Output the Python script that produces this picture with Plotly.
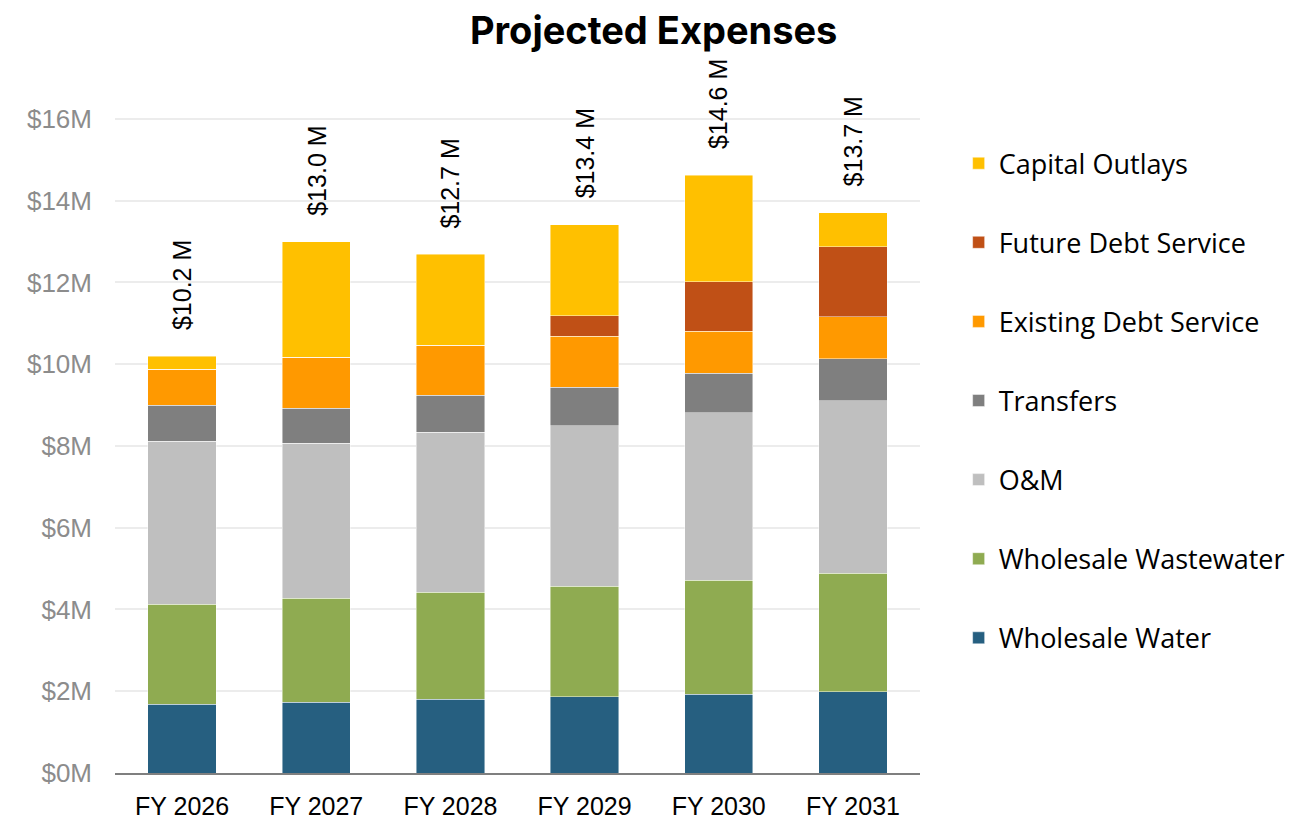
import plotly.graph_objects as go

years = ["FY 2026", "FY 2027", "FY 2028", "FY 2029", "FY 2030", "FY 2031"]

wholesale_water = [1.68, 1.73, 1.80, 1.86, 1.93, 1.99]
wholesale_wastewater = [2.45, 2.54, 2.62, 2.71, 2.78, 2.90]
om = [3.98, 3.79, 3.92, 3.93, 4.10, 4.22]
transfers = [0.88, 0.86, 0.90, 0.93, 0.97, 1.02]
existing_debt = [0.88, 1.25, 1.22, 1.25, 1.02, 1.03]
future_debt = [0.0, 0.0, 0.0, 0.51, 1.22, 1.71]
capital_outlays = [0.33, 2.83, 2.23, 2.22, 2.60, 0.84]

series = [
    ("Wholesale Water", wholesale_water, "#265F80"),
    ("Wholesale Wastewater", wholesale_wastewater, "#8FAB51"),
    ("O&M", om, "#BFBFBF"),
    ("Transfers", transfers, "#7F7F7F"),
    ("Existing Debt Service", existing_debt, "#FF9900"),
    ("Future Debt Service", future_debt, "#C05016"),
    ("Capital Outlays", capital_outlays, "#FFC000"),
]

fig = go.Figure()
n = len(series)
for i, (name, vals, color) in enumerate(series):
    fig.add_trace(go.Bar(
        x=years, y=vals, name=name, legendgroup=name, legendrank=(n - i) * 10,
        marker=dict(color=color, line=dict(color="rgba(255,255,255,0.6)", width=0.75)),
    ))

totals = [sum(v) for v in zip(*[s[1] for s in series])]
for yr, tot in zip(years, totals):
    fig.add_annotation(
        x=yr, y=tot, text=f"${tot:.1f} M", textangle=-90, showarrow=False,
        xanchor="center", yanchor="bottom", yshift=24,
        font=dict(family="Liberation Sans, Arial, sans-serif", size=25, color="#000000"),
    )

fig.update_layout(
    barmode="stack",
    bargap=0.49,
    width=1307, height=823,
    plot_bgcolor="white", paper_bgcolor="white",
    margin=dict(l=107, r=395, t=70, b=58),
    title=dict(text="<b>Projected Expenses</b>", x=0.494, xref="container", xanchor="center",
               y=0.972, yref="container", yanchor="middle",
               font=dict(family="Inter, Lato, sans-serif", size=38, color="#000000")),
    legend=dict(
        traceorder="grouped", x=1.048, xanchor="left", y=0.912, yanchor="top",
        font=dict(family="Open Sans, sans-serif", size=27, color="#000000"),
        tracegroupgap=41, itemwidth=30, bgcolor="rgba(0,0,0,0)",
    ),
    showlegend=True,
)
fig.update_xaxes(
    showgrid=False, showline=True, linecolor="#7f7f7f", linewidth=2,
    tickfont=dict(family="Liberation Sans, Arial, sans-serif", size=25, color="#000000"),
    ticks="", ticklabelstandoff=10, automargin=False,
)
fig.update_yaxes(
    range=[0, 17], tickvals=[0, 2, 4, 6, 8, 10, 12, 14, 16],
    ticktext=["$0M", "$2M", "$4M", "$6M", "$8M", "$10M", "$12M", "$14M", "$16M"],
    showgrid=True, gridcolor="#ececec", gridwidth=1.5, zeroline=False,
    tickfont=dict(family="Liberation Sans, Arial, sans-serif", size=26, color="#8c8c8c"),
    ticks="", ticklabelstandoff=22, automargin=False,
)

fig.write_html("out.html")
